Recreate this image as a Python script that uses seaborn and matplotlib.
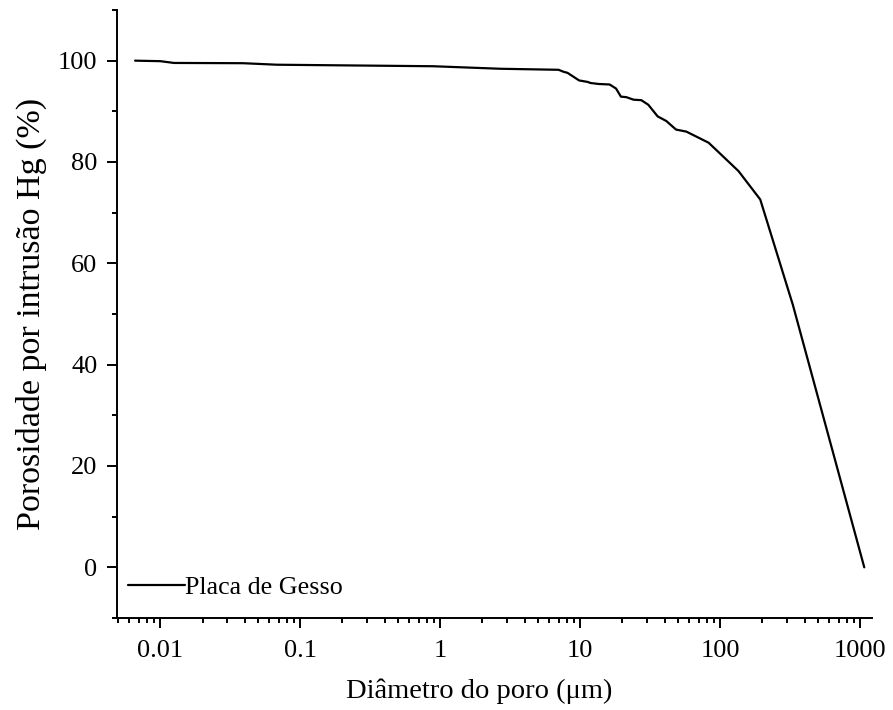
import matplotlib
matplotlib.use("Agg")
import matplotlib.pyplot as plt
import seaborn as sns
import pandas as pd
from matplotlib.ticker import LogLocator, FixedLocator, NullFormatter

diameter_um = [0.0066, 0.01, 0.0125, 0.039, 0.068, 0.89, 2.7, 7.0, 7.6, 8.1,
               9.8, 11.3, 11.8, 13.5, 16.2, 18.0, 19.5, 21.3, 24.0, 27.3,
               30.6, 35.7, 41.1, 48.3, 57.2, 82.6, 135, 193, 330, 1068]
porosity_pct = [100.0, 99.9, 99.55, 99.5, 99.2, 98.9, 98.4, 98.2, 97.8, 97.6,
                96.1, 95.8, 95.6, 95.4, 95.3, 94.5, 92.9, 92.8, 92.3, 92.2,
                91.3, 89.0, 88.1, 86.4, 86.0, 83.8, 78.2, 72.6, 51.8, 0.0]
series_name = "Placa de Gesso"
x_ticks = [0.01, 0.1, 1, 10, 100, 1000]
x_ticklabels = ["0.01", "0.1", "1", "10", "100", "1000"]
y_ticks = [0, 20, 40, 60, 80, 100]

df = pd.DataFrame({"d": diameter_um, "p": porosity_pct, "s": series_name})

sns.set_theme(style="ticks")
plt.rcParams["font.family"] = ["Liberation Serif", "DejaVu Serif"]
plt.rcParams["text.color"] = "black"
plt.rcParams["axes.labelcolor"] = "black"
plt.rcParams["xtick.color"] = "black"
plt.rcParams["ytick.color"] = "black"

fig = plt.figure(figsize=(8.93, 7.10), dpi=100)
ax = fig.add_axes([117/893, 1-618/710, (872-117)/893, (618-10)/710])

sns.lineplot(data=df, x="d", y="p", hue="s", palette=["black"], ax=ax,
             linewidth=1.6, estimator=None, sort=False)
ax.set_xscale("log")
ax.set_xlim(0.0049, 1213)
ax.set_ylim(-10, 110)

ax.xaxis.set_major_locator(FixedLocator(x_ticks))
ax.set_xticklabels(x_ticklabels)
ax.xaxis.set_minor_locator(LogLocator(base=10, subs=range(2, 10), numticks=20))
ax.xaxis.set_minor_formatter(NullFormatter())
ax.yaxis.set_major_locator(FixedLocator(y_ticks))
ax.yaxis.set_minor_locator(FixedLocator([-10, 10, 30, 50, 70, 90, 110]))

for s in ["top", "right"]:
    ax.spines[s].set_visible(False)
for s in ["left", "bottom"]:
    ax.spines[s].set_linewidth(1.4)
    ax.spines[s].set_color("black")

ax.tick_params(which="major", direction="out", length=7, width=1.4,
               labelsize=19, colors="black")
ax.tick_params(axis="x", which="major", pad=9)
ax.tick_params(axis="y", which="major", pad=7)
ax.tick_params(which="minor", direction="out", length=3.5, width=1.4, colors="black")

ax.set_xlabel("Diâmetro do poro (μm)", fontsize=20.5, labelpad=12, color="black")
ax.xaxis.label.set_x(0.48)
ax.set_ylabel("Porosidade por intrusão Hg (%)", fontsize=24.5, labelpad=8, color="black")

leg = ax.legend(loc="center left", bbox_to_anchor=(0.0146, 0.05), frameon=False,
                fontsize=18.7, handlelength=2.2, handletextpad=0.0, borderpad=0,
                borderaxespad=0, labelcolor="black")
for h in leg.get_lines():
    h.set_linewidth(1.6)

fig.savefig("out.png", dpi=100)
